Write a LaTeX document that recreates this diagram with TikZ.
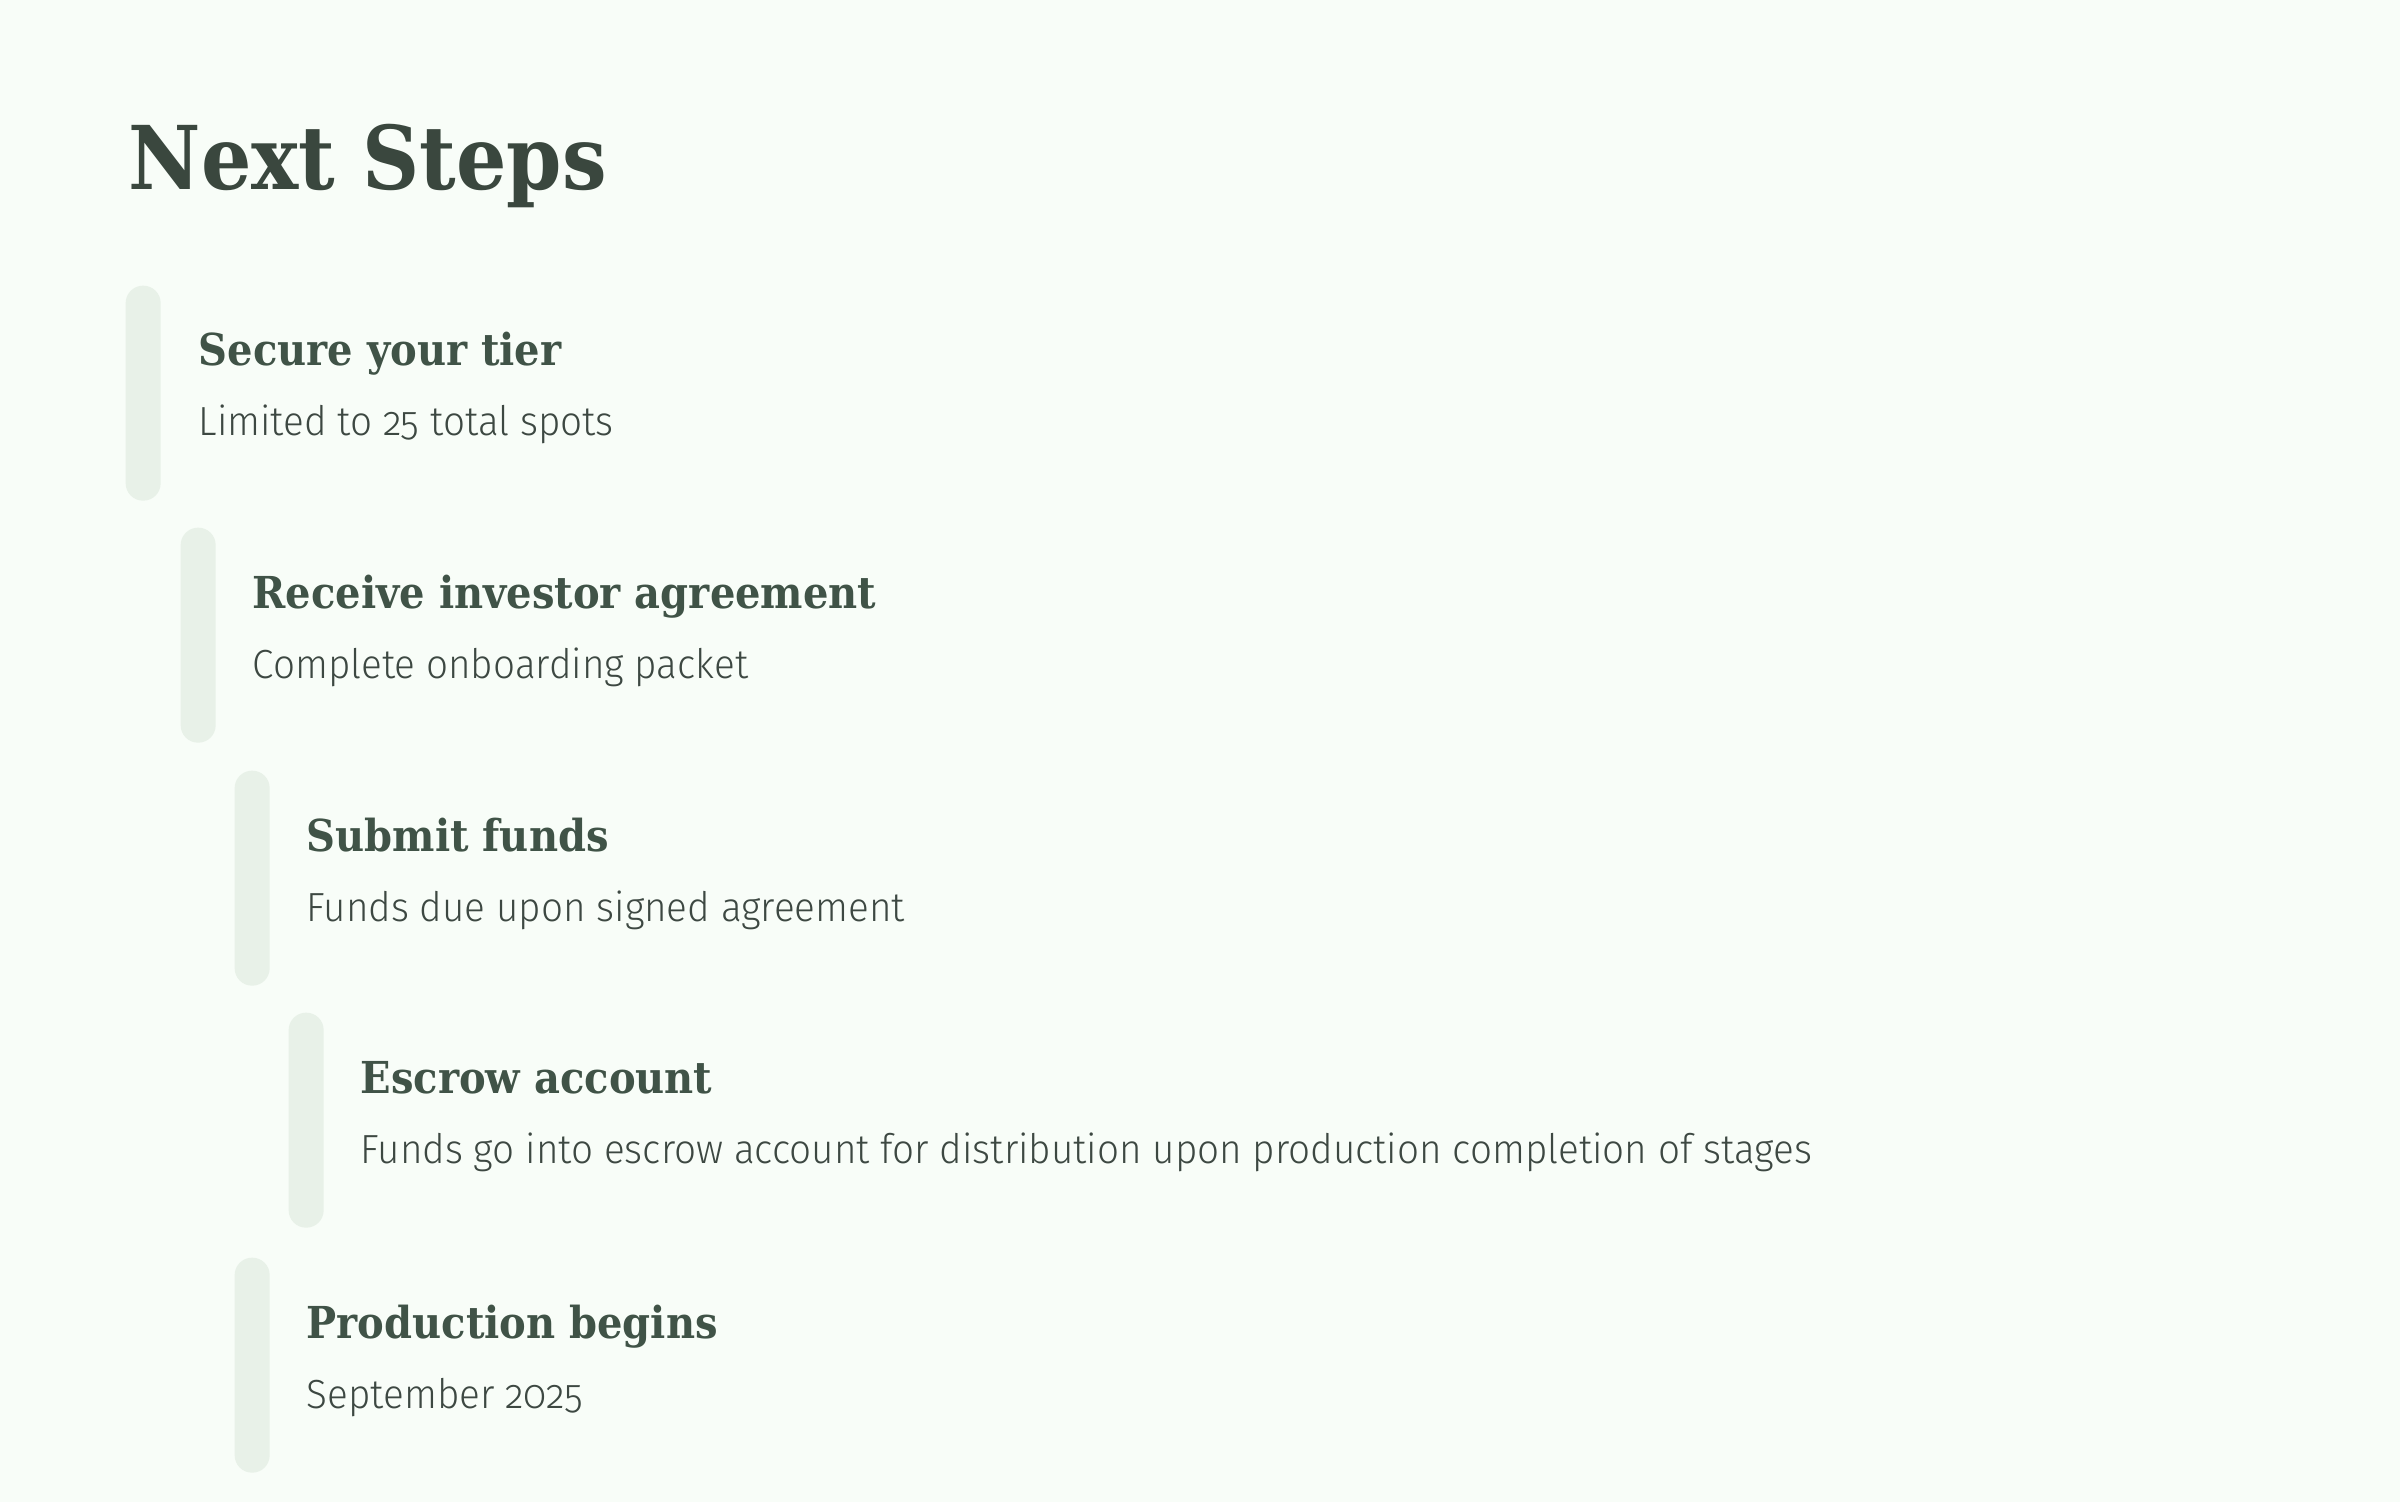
\documentclass[tikz,border=0pt]{standalone}
\usepackage{fontspec}
\newfontfamily\titlefont{DejaVu Serif}[FakeStretch=0.90]
\newfontfamily\headfont{DejaVu Serif}[FakeStretch=0.91]
\newfontfamily\bodyfont{Fira Sans Light}[Numbers=OldStyle,FakeStretch=0.95]
\definecolor{bgcol}{HTML}{F8FDF8}
\definecolor{barcol}{HTML}{E8F1E8}
\definecolor{titlecol}{HTML}{3A473E}
\definecolor{headcol}{HTML}{405347}
\definecolor{bodycol}{HTML}{3D4842}
\tikzset{
  stepbar/.style={fill=barcol, draw=none, anchor=north west, inner sep=0pt,
    minimum width=10.5pt, minimum height=64.5pt, rounded corners=5.2pt},
  stephead/.style={anchor=base west, inner sep=0pt, text=headcol,
    font=\headfont\bfseries\fontsize{13.2pt}{15pt}\selectfont},
  stepbody/.style={anchor=base west, inner sep=0pt, text=bodycol,
    font=\bodyfont\fontsize{12.2pt}{15pt}\selectfont},
  titletext/.style={anchor=base west, inner sep=0pt, text=titlecol,
    font=\titlefont\bfseries\fontsize{26.4pt}{30pt}\selectfont}
}
\begin{document}
\begin{tikzpicture}[x=0.3pt,y=-0.3pt]
\fill[bgcol] (0,0) rectangle (2400,1502);
\useasboundingbox (0,0) rectangle (2400,1502);
\node[titletext] (title) at (128,190) {Next Steps};
% step 1
\node[stepbar] (bar1) at (125,285) {};
\node[stephead] (h1) at (198,366) {Secure your tier};
\node[stepbody] (d1) at (198,436) {Limited to 25 total spots};
% step 2
\node[stepbar] (bar2) at (180,527) {};
\node[stephead] (h2) at (252,608) {Receive investor agreement};
\node[stepbody] (d2) at (252,678) {Complete onboarding packet};
% step 3
\node[stepbar] (bar3) at (234,770) {};
\node[stephead] (h3) at (306,851) {Submit funds};
\node[stepbody] (d3) at (306,921) {Funds due upon signed agreement};
% step 4
\node[stepbar] (bar4) at (288,1012) {};
\node[stephead] (h4) at (360,1093) {Escrow account};
\node[stepbody] (d4) at (360,1163) {Funds go into escrow account for distribution upon production completion of stages};
% step 5
\node[stepbar] (bar5) at (234,1257) {};
\node[stephead] (h5) at (306,1338) {Production begins};
\node[stepbody] (d5) at (306,1408) {September 2025};
\end{tikzpicture}
\end{document}
